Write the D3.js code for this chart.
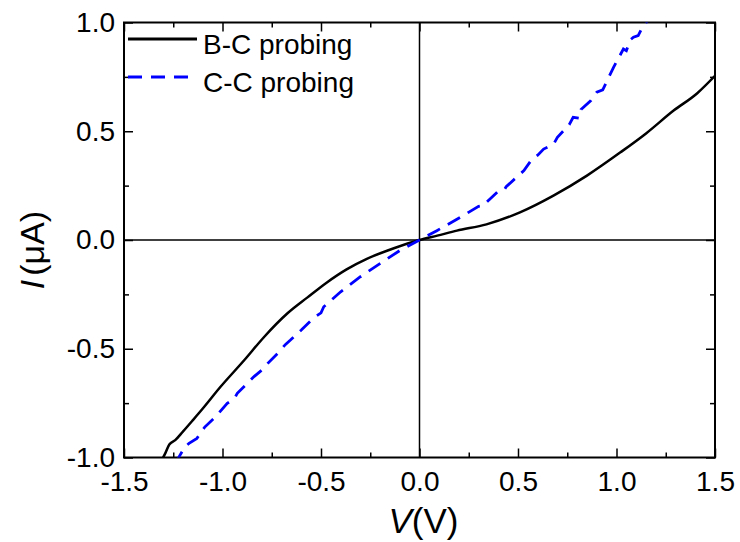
<html>
<head>
<meta charset="utf-8">
<script src="https://d3js.org/d3.v7.min.js"></script>
<style>
body { margin: 0; background: #fff; }
svg { font-family: Arial, 'Liberation Sans', sans-serif; }
.tick text { font-size: 28px; fill: #000; }
.tick line { stroke: #000; stroke-width: 1.5; }
</style>
</head>
<body>
<div id="plot"></div>
<script>

var width = 740;
var height = 542;
var margin = { left: 124, right: 25, top: 22.5, bottom: 84.5 };
var w = width - margin.left - margin.right;
var h = height - margin.top - margin.bottom;

// B-C probing (solid black)
var bcV = [-1.32, -1.29, -1.27, -1.24, -1.20, -1.15, -1.10, -1.01, -0.89, -0.79, -0.67, -0.57, -0.47, -0.37, -0.27, -0.13, 0, 0.09, 0.19, 0.34, 0.51, 0.68, 0.85, 1.02, 1.15, 1.29, 1.41, 1.5];
var bcI = [-1.03, -0.98, -0.94, -0.92, -0.88, -0.828, -0.775, -0.675, -0.553, -0.447, -0.337, -0.265, -0.195, -0.135, -0.088, -0.038, 0, 0.02, 0.043, 0.072, 0.127, 0.204, 0.296, 0.403, 0.49, 0.595, 0.675, 0.755];

// C-C probing (dashed blue)
var ccV = [-1.24, -1.22, -1.19, -1.17, -1.13, -1.09, -1.035, -0.976, -0.94, -0.925, -0.84, -0.79, -0.77, -0.72, -0.68, -0.655, -0.60, -0.54, -0.50, -0.486, -0.40, -0.30, -0.198, -0.096, 0, 0.088, 0.207, 0.30, 0.33, 0.34, 0.40, 0.43, 0.44, 0.53, 0.57, 0.60, 0.63, 0.68, 0.70, 0.76, 0.78, 0.81, 0.82, 0.87, 0.90, 0.93, 0.985, 1.035, 1.05, 1.07, 1.086, 1.11, 1.13, 1.15, 1.17];
var ccI = [-1.03, -0.996, -0.95, -0.935, -0.912, -0.86, -0.812, -0.751, -0.73, -0.705, -0.628, -0.59, -0.567, -0.521, -0.48, -0.46, -0.414, -0.36, -0.335, -0.307, -0.238, -0.169, -0.107, -0.046, 0, 0.043, 0.104, 0.155, 0.16, 0.173, 0.225, 0.23, 0.245, 0.319, 0.37, 0.39, 0.418, 0.44, 0.472, 0.53, 0.564, 0.56, 0.60, 0.641, 0.68, 0.69, 0.794, 0.878, 0.87, 0.92, 0.932, 0.94, 0.975, 1.0, 1.02];

var xTicks = [-1.5, -1.0, -0.5, 0.0, 0.5, 1.0, 1.5];
var yTicks = [-1.0, -0.5, 0.0, 0.5, 1.0];
var xMinor = [-1.25, -0.75, -0.25, 0.25, 0.75, 1.25];
var yMinor = [-0.75, -0.25, 0.25, 0.75];
var seriesNames = ["B-C probing", "C-C probing"];

var svg = d3.select("#plot").append("svg")
.attr("width", width).attr("height", height)
.append("g").attr("transform", "translate(" + margin.left + "," + margin.top + ")");

var xScale = d3.scaleLinear().domain([-1.5, 1.5]).range([0, w]);
var yScale = d3.scaleLinear().domain([-1, 1]).range([h, 0]);
// plain hyphen for negatives, like the original figure
var fmt = function (d) { return d.toFixed(1); };

svg.append("clipPath").attr("id", "clip")
.append("rect").attr("width", w).attr("height", h);

// zero lines
svg.append("line").attr("x1", 0).attr("x2", w)
.attr("y1", yScale(0)).attr("y2", yScale(0))
.style("stroke", "#000").style("stroke-width", 1.5);
svg.append("line").attr("x1", xScale(0)).attr("x2", xScale(0))
.attr("y1", 0).attr("y2", h)
.style("stroke", "#000").style("stroke-width", 1.5);

// axes, ticks pointing inward on all four sides
function addAxis(axis, tx, ty) {
  var g = svg.append("g").attr("transform", "translate(" + tx + "," + ty + ")").call(axis);
  g.select(".domain").remove();
  return g;
}
addAxis(d3.axisBottom(xScale).tickValues(xTicks).tickFormat(fmt).tickSize(-9).tickPadding(14), 0, h);
addAxis(d3.axisBottom(xScale).tickValues(xMinor).tickFormat("").tickSize(-5), 0, h);
addAxis(d3.axisTop(xScale).tickValues(xTicks).tickFormat("").tickSize(-9), 0, 0);
addAxis(d3.axisTop(xScale).tickValues(xMinor).tickFormat("").tickSize(-5), 0, 0);
addAxis(d3.axisLeft(yScale).tickValues(yTicks).tickFormat(fmt).tickSize(-9).tickPadding(9), 0, 0);
addAxis(d3.axisLeft(yScale).tickValues(yMinor).tickFormat("").tickSize(-5), 0, 0);
addAxis(d3.axisRight(yScale).tickValues(yTicks).tickFormat("").tickSize(-9), w, 0);
addAxis(d3.axisRight(yScale).tickValues(yMinor).tickFormat("").tickSize(-5), w, 0);

svg.append("rect").attr("width", w).attr("height", h)
.style("fill", "none").style("stroke", "#000").style("stroke-width", 2);

var line = d3.line()
.x(function (d) { return xScale(d[0]); })
.y(function (d) { return yScale(d[1]); });

svg.append("path")
.datum(d3.zip(bcV, bcI))
.attr("clip-path", "url(#clip)")
.attr("d", line.curve(d3.curveMonotoneX))
.style("fill", "none").style("stroke", "#000").style("stroke-width", 2.5);

svg.append("path")
.datum(d3.zip(ccV, ccI))
.attr("clip-path", "url(#clip)")
.attr("d", line.curve(d3.curveLinear))
.style("fill", "none").style("stroke", "#0000ff").style("stroke-width", 2.8)
.style("stroke-dasharray", "14,9");

// legend
var legend = svg.append("g").attr("transform", "translate(4, 0)");
[["#000", null], ["#0000ff", "14,9"]].forEach(function (s, i) {
  var y = 16.5 + i * 38;
  legend.append("line").attr("x1", 0).attr("x2", 69).attr("y1", y).attr("y2", y)
  .style("stroke", s[0]).style("stroke-width", 2.8).style("stroke-dasharray", s[1]);
  legend.append("text").attr("x", 75).attr("y", y + 6).attr("dy", "0.32em")
  .style("font-size", "28px").text(seriesNames[i]);
});

// axis titles
var xt = svg.append("text").attr("x", w / 2 + 4).attr("y", h + 75)
.attr("text-anchor", "middle").style("font-size", "35px");
xt.append("tspan").style("font-style", "italic").text("V");
xt.append("tspan").text("(V)");

var yt = svg.append("text").attr("transform", "translate(" + (-80) + "," + (h / 2 + 10) + ") rotate(-90)")
.attr("text-anchor", "middle").style("font-size", "34px");
yt.append("tspan").style("font-style", "italic").text("I");
yt.append("tspan").attr("dx", 4).text("(\u03bcA)");

</script>
</body>
</html>
